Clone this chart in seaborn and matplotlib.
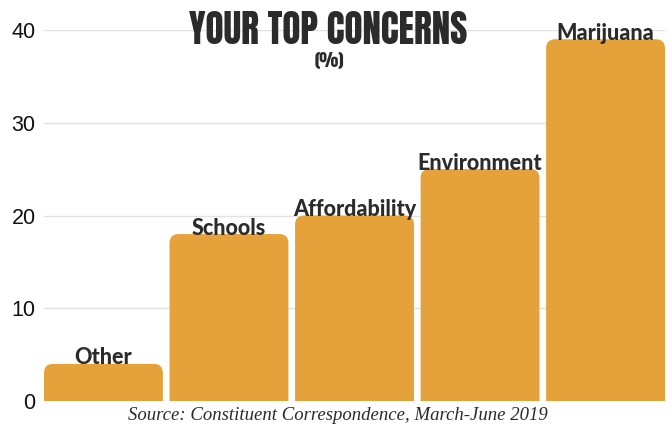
import seaborn as sns
import matplotlib.pyplot as plt
import pandas as pd
from matplotlib.patches import FancyBboxPatch
from matplotlib import font_manager

categories = ["Other", "Schools", "Affordability", "Environment", "Marijuana"]
values = [4, 18, 20, 25, 39]
yticks = [0, 10, 20, 30, 40]

BAR = "#E6A23A"
INK = "#2B2B2B"

sns.set_theme(style="whitegrid")
plt.rcParams["font.family"] = ["Liberation Sans", "DejaVu Sans"]


def first_font(names):
    for n in names:
        try:
            font_manager.findfont(font_manager.FontProperties(family=n),
                                  fallback_to_default=False)
            return n
        except ValueError:
            pass
    return "DejaVu Sans"


title_font = first_font(["Anton", "Oswald", "Bebas Neue", "Roboto Condensed",
                         "Liberation Sans Narrow", "Roboto"])

df = pd.DataFrame({"concern": categories, "pct": values})

fig = plt.figure(figsize=(6.7, 4.26), dpi=100)
ax = fig.add_axes([44 / 670, 1 - 401 / 426, 621 / 670, 371 / 426])

bw = 0.947
sns.barplot(data=df, x="concern", y="pct", color=BAR, width=bw,
            saturation=1, ax=ax)
ax.set_xlim(-bw / 2, 4 + bw / 2)
ax.set_ylim(0, 40)

# swap the square bars for ones with rounded top corners
px_x = 621 / (4 + bw)
px_y = 371 / 40
r = 9 / px_x
for p in list(ax.patches):
    x, w, h = p.get_x(), p.get_width(), p.get_height()
    p.remove()
    ax.add_patch(FancyBboxPatch((x, -2), w, h + 2,
                                boxstyle=f"round,pad=0,rounding_size={r}",
                                mutation_aspect=px_x / px_y,
                                facecolor=BAR, edgecolor="none", zorder=2))

for i, (c, v) in enumerate(zip(categories, values)):
    ax.text(i, v - 0.05, c, ha="center", va="baseline", fontsize=15.5,
            fontweight="black", color=INK, family=["Lato", "DejaVu Sans"],
            zorder=3, clip_on=False)

ax.set_yticks(yticks)
ax.set_yticklabels([str(t) for t in yticks], fontsize=15.5, color="#111111")
ax.set_xticks([])
ax.set_xlabel("")
ax.set_ylabel("")
ax.tick_params(axis="y", length=0, pad=6)
ax.grid(axis="y", color="#E2E2E2", linewidth=1)
ax.grid(axis="x", visible=False)
for s in ax.spines.values():
    s.set_visible(False)
ax.set_facecolor("white")
ax.set_axisbelow(True)

title = fig.text(328 / 670, 1 - 44 / 426, "YOUR TOP CONCERNS", ha="center",
                 va="baseline", fontsize=30, fontweight="black", color=INK,
                 family=[title_font, "DejaVu Sans"])
# fit the title to the width it has in the original
renderer = fig.canvas.get_renderer()
tw = title.get_window_extent(renderer).width
title.set_fontsize(min(34, 30 * 278 / tw))

fig.text(329 / 670, 1 - 67 / 426, "(%)", ha="center", va="baseline",
         fontsize=13, fontweight="black", color=INK,
         family=[title_font, "DejaVu Sans"])
fig.text(0.505, 0.004, "Source: Constituent Correspondence, March-June 2019",
         ha="center", va="bottom", fontsize=13.5, style="italic", color=INK,
         family=["Liberation Serif", "DejaVu Serif"])

fig.savefig("out.png", dpi=100)
